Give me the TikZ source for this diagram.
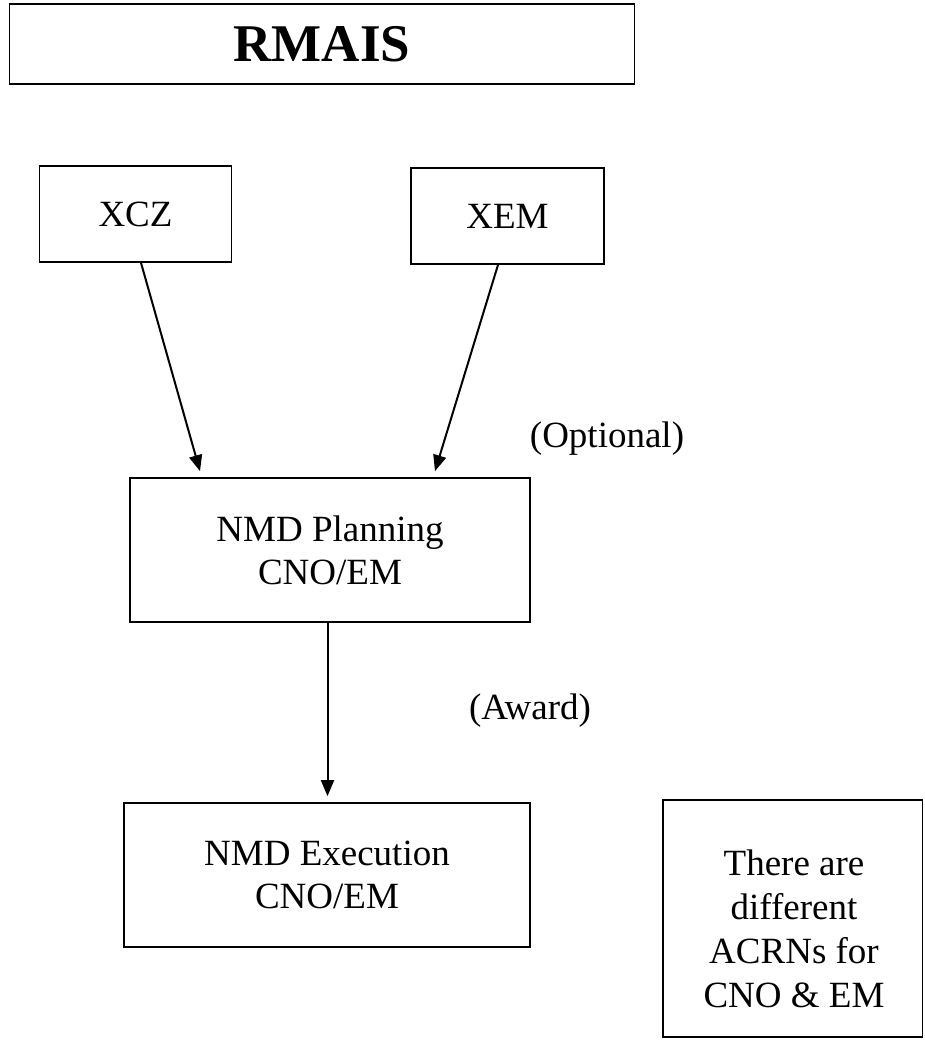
\documentclass[tikz,border=0pt]{standalone}
\usepackage{fontspec}
\setmainfont{Liberation Serif}
\usetikzlibrary{arrows.meta}
\begin{document}
\begin{tikzpicture}[x=1pt,y=-1pt,
  box/.style={draw, line width=1.7pt, inner sep=0pt, align=center, font=\fontsize{37}{43}\selectfont},
  lbl/.style={inner sep=0pt, align=center, font=\fontsize{37}{44}\selectfont},
  arr/.style={-{Triangle[length=16pt,width=13pt]}, line width=2pt}]
\useasboundingbox (0,0) rectangle (924,1040);
\node[box, minimum width=625pt, minimum height=80pt, font=\bfseries\fontsize{53}{60}\selectfont] (title) at (322,44) {RMAIS};
\node[box, minimum width=192pt, minimum height=96pt] (xcz) at (135.5,214) {XCZ};
\node[box, minimum width=193pt, minimum height=96pt] (xem) at (507.5,216) {XEM};
\node[box, minimum width=400pt, minimum height=144pt] (plan) at (330,550) {NMD Planning\\CNO/EM};
\node[box, minimum width=406pt, minimum height=144pt] (exec) at (327,875) {NMD Execution\\CNO/EM};
\node[box, minimum width=259.5pt, minimum height=237pt] (noterect) at (792.7,918.5) {};
\node[lbl] (notetext) at (794,929) {There are\\different\\ACRNs for\\CNO \& EM};
\node[lbl] (optional) at (607,438.5) {(Optional)};
\node[lbl] (award) at (530,711) {(Award)};
\draw[arr] ([xshift=5.5pt]xcz.south) -- ([xshift=-130pt,yshift=6pt]plan.north);
\draw[arr] ([xshift=-9.5pt]xem.south) -- ([xshift=105pt,yshift=6pt]plan.north);
\draw[arr] ([xshift=-2.5pt]plan.south) -- ([xshift=0.5pt,yshift=6pt]exec.north);
\end{tikzpicture}
\end{document}
